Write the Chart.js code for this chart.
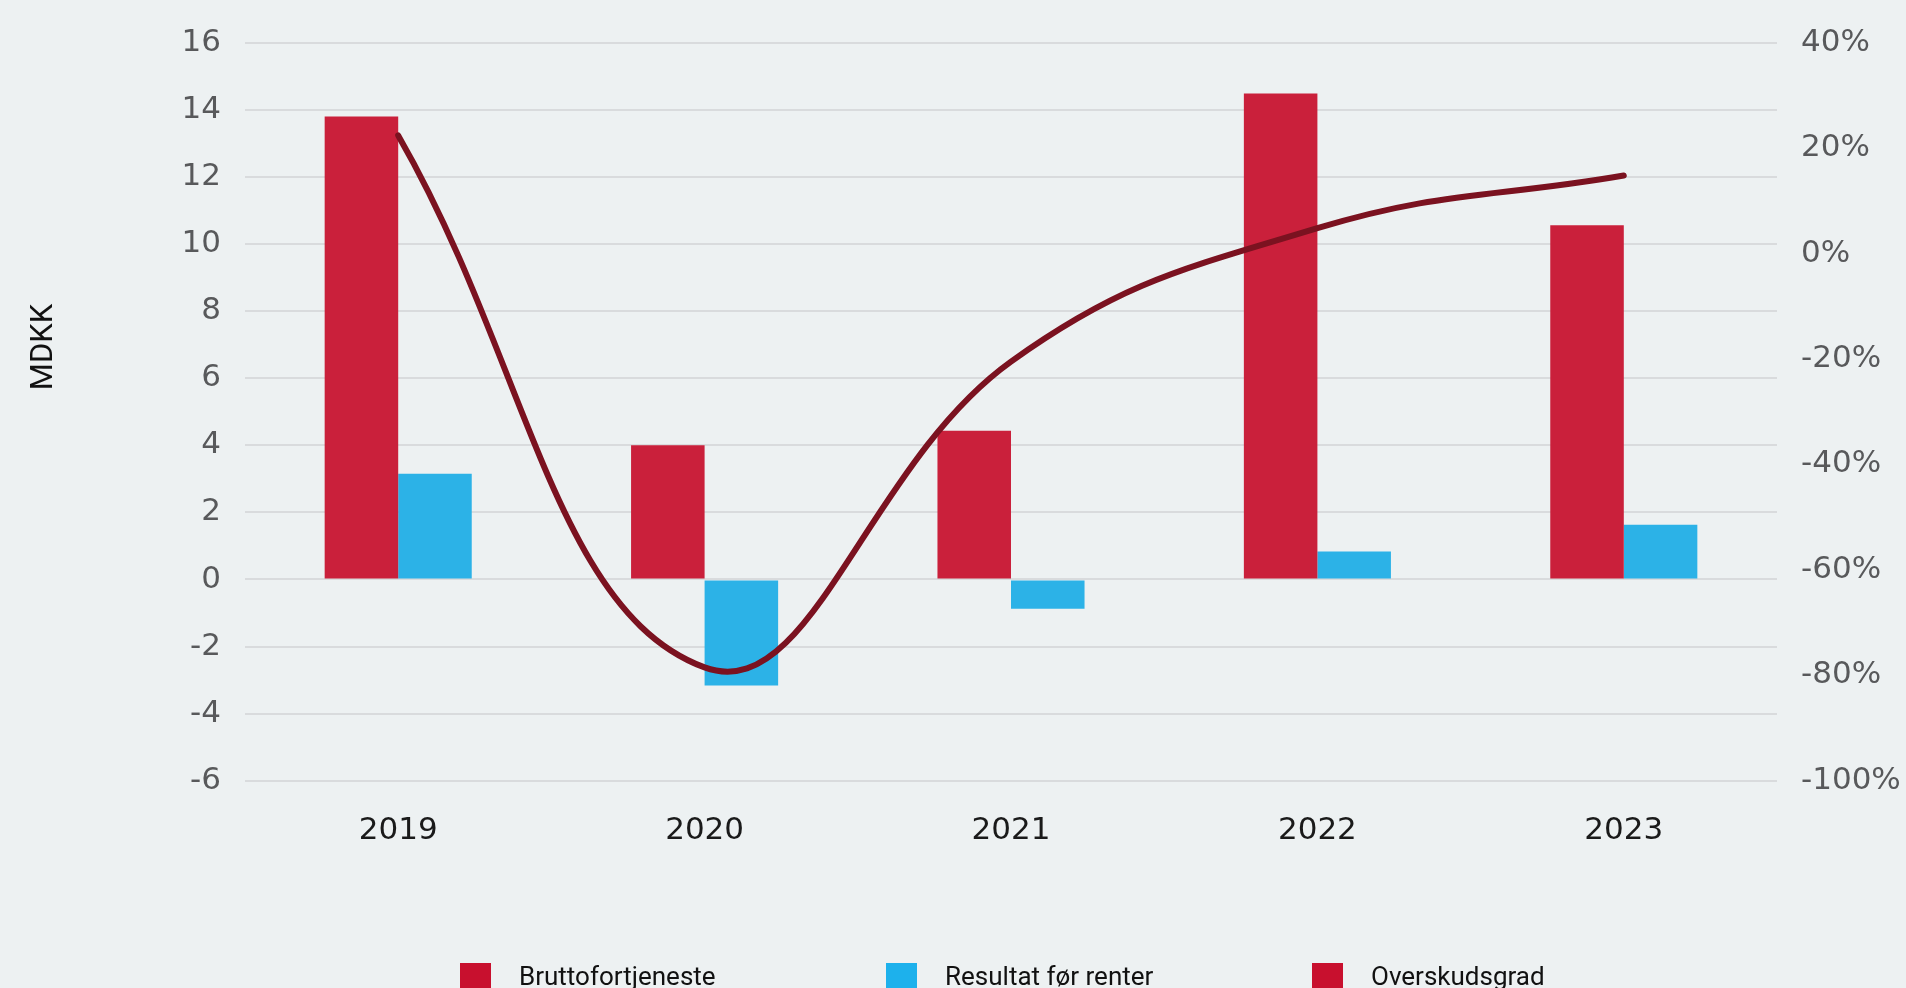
<!DOCTYPE html>
<html>
<head>
<meta charset="utf-8">
<script src="https://cdn.jsdelivr.net/npm/chart.js@4.4.0/dist/chart.umd.min.js"></script>
<style>
  html, body { margin: 0; padding: 0; background: #edf1f2; overflow: hidden; }
  #wrap { width: 1906px; height: 988px; }
</style>
</head>
<body>
<div id="wrap"><canvas id="myChart" width="1906" height="988"></canvas></div>
<script>
var years = ['2019', '2020', '2021', '2022', '2023'];
var bruttofortjeneste = [13.8, 4.0, 4.43, 14.48, 10.56];
var resultatForRenter = [3.15, -3.16, -0.87, 0.83, 1.63];
var overskudsgrad = [22.4, -78.5, -20.5, 4.8, 14.8];

var leftTicks = { min: -6, max: 16, step: 2 };
var rightTicks = { min: -100, max: 40, step: 20 };

var legendColors = ['#c8102e', '#1db1ec', '#c8102e'];

// legend + axis title drawn by hand, the built-in legend can't space like this
var bottomLegend = {
  id: 'bottomLegend',
  afterDraw: function(chart) {
    var ctx = chart.ctx;
    var area = chart.chartArea;
    var colW = 426;
    var x0 = (area.left + area.right) / 2 - 551;
    var top = chart.height - 25;
    ctx.save();
    ctx.font = '26px Roboto, "Liberation Sans", sans-serif';
    ctx.textBaseline = 'middle';
    ctx.textAlign = 'left';
    chart.data.datasets.forEach(function(ds, i) {
      var x = x0 + i * colW;
      ctx.fillStyle = legendColors[i];
      ctx.fillRect(x, top, 31, 31);
      ctx.fillStyle = '#111';
      ctx.fillText(ds.label, x + 59, top + 15);
    });
    ctx.translate(44, 347);
    ctx.rotate(-Math.PI / 2);
    ctx.textAlign = 'center';
    ctx.font = '31px Roboto, "Liberation Sans", sans-serif';
    ctx.fillText('MDKK', 0, 0);
    ctx.restore();
  }
};

var myChartObject = document.getElementById('myChart');

var chart = new Chart(myChartObject, {
  type: 'bar',
  data: {
    labels: years,
    datasets: [
    {
      type: 'bar',
      label: 'Bruttofortjeneste',
      backgroundColor: '#ca203b',
      data: bruttofortjeneste,
      yAxisID: 'y',
      order: 1
    },
    {
      type: 'bar',
      label: 'Resultat før renter',
      backgroundColor: '#2cb2e7',
      data: resultatForRenter,
      yAxisID: 'y',
      order: 1
    },
    {
      type: 'line',
      label: 'Overskudsgrad',
      borderColor: '#7b1220',
      backgroundColor: '#7b1220',
      borderWidth: 6,
      borderCapStyle: 'round',
      pointRadius: 0,
      tension: 0.42,
      data: overskudsgrad,
      yAxisID: 'y1',
      order: 0
    }
    ]
  },
  options: {
    responsive: false,
    animation: false,
    layout: {
      padding: { left: 0, right: 0, top: 30, bottom: 114 }
    },
    datasets: {
      bar: { categoryPercentage: 0.48, barPercentage: 1.0 }
    },
    plugins: {
      legend: { display: false },
      tooltip: { enabled: false }
    },
    scales: {
      x: {
        grid: { display: false },
        border: { display: false },
        ticks: {
          padding: 24,
          color: '#1a1a1a',
          font: { family: '"DejaVu Sans"', size: 31 }
        }
      },
      y: {
        position: 'left',
        min: leftTicks.min,
        max: leftTicks.max,
        border: { display: false },
        grid: { color: '#d9dbdd', lineWidth: 2, drawTicks: false },
        ticks: {
          stepSize: leftTicks.step,
          padding: 24,
          color: '#58595b',
          font: { family: '"DejaVu Sans"', size: 31 }
        },
        afterFit: function(scale) { scale.width = 245; }
      },
      y1: {
        position: 'right',
        min: rightTicks.min,
        max: rightTicks.max,
        border: { display: false },
        grid: { display: false, drawTicks: false },
        ticks: {
          stepSize: rightTicks.step,
          padding: 24,
          color: '#58595b',
          font: { family: '"DejaVu Sans"', size: 31 },
          callback: function(v) { return v + '%'; }
        },
        afterFit: function(scale) { scale.width = 129; }
      }
    }
  },
  plugins: [bottomLegend]
});
</script>
</body>
</html>
